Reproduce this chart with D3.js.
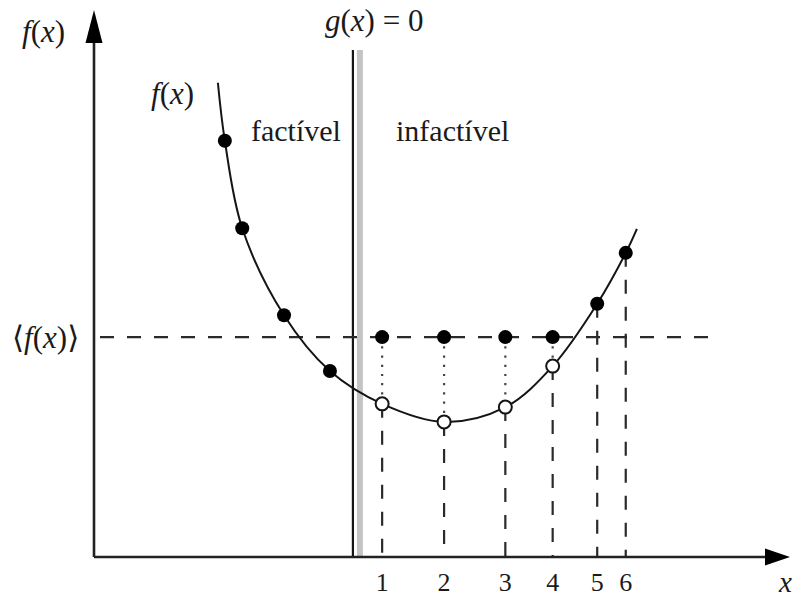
<!DOCTYPE html>
<html>
<head>
<meta charset="utf-8">
<script src="https://cdn.jsdelivr.net/npm/d3@7"></script>
<style>
  html, body { margin: 0; padding: 0; background: #fff; }
  svg { display: block; }
  text { font-family: "Liberation Serif", "DejaVu Serif", serif; fill: #1a1a1a; }
</style>
</head>
<body>
<svg id="chart" width="794" height="597"></svg>
<script>
// Samples of f(x) along the curve (x, f)
const curveX = [17.8, 18.8, 21.3, 27.3, 33.9, 41.4, 50.3, 59.1, 65.9, 72.3, 76.4, 78.0];
const curveY = [86.7, 76.1, 60.1, 44.2, 34.0, 28.0, 24.7, 27.4, 34.9, 46.3, 55.6, 60.0];

// Feasible samples (left of the constraint), filled
const feasX = [18.8, 21.3, 27.3, 33.9];
const feasY = [76.1, 60.1, 44.2, 34.0];

// Infeasible samples 1..4: true value (open) and value replaced by the mean (filled)
const infX = [41.4, 50.3, 59.1, 65.9];
const infY = [28.0, 24.7, 27.4, 34.9];

// Feasible samples 5, 6 on the right
const rightX = [72.3, 76.4];
const rightY = [46.3, 55.6];

// Sample labels along the x axis
const tickLabels = ["1", "2", "3", "4", "5", "6"];
const tickX = [41.4, 50.3, 59.1, 65.9, 72.3, 76.4];

const meanF = 40.2;      // <f(x)>
const meanEnd = 88.5;    // right end of the mean line
const gX = 37.2;         // position of g(x) = 0
const gTop = 92.7;

const svg = d3.select("#chart");
const x = d3.scaleLinear().domain([0, 100]).range([94, 790]);
const y = d3.scaleLinear().domain([0, 100]).range([557, 10]);

const ink = "#151515";
const dashCol = "#2a2a2a";

// constraint boundary: grey band and black line
svg.append("line")
  .attr("x1", x(gX) + 7).attr("x2", x(gX) + 7)
  .attr("y1", y(gTop)).attr("y2", y(0))
  .attr("stroke", "#c4c4c4").attr("stroke-width", 6);
svg.append("line")
  .attr("x1", x(gX)).attr("x2", x(gX))
  .attr("y1", y(gTop)).attr("y2", y(0))
  .attr("stroke", ink).attr("stroke-width", 2.2);

// mean level line
svg.append("line")
  .attr("x1", x(0)).attr("x2", x(meanEnd))
  .attr("y1", y(meanF)).attr("y2", y(meanF))
  .attr("stroke", dashCol).attr("stroke-width", 2.2)
  .attr("stroke-dasharray", "14,13").attr("stroke-dashoffset", -6);

// dotted links from the mean to the true value for samples 1..4
svg.selectAll(".dot-link").data(infX).join("line")
  .attr("x1", d => x(d)).attr("x2", d => x(d))
  .attr("y1", y(meanF)).attr("y2", (d, i) => y(infY[i]))
  .attr("stroke", "#444").attr("stroke-width", 2.2)
  .attr("stroke-dasharray", "2.2,7");

// dashed drops to the x axis
svg.selectAll(".drop").data(infX).join("line")
  .attr("x1", d => x(d)).attr("x2", d => x(d))
  .attr("y1", (d, i) => y(infY[i])).attr("y2", y(0))
  .attr("stroke", dashCol).attr("stroke-width", 2.2)
  .attr("stroke-dasharray", "14,13");
svg.selectAll(".drop2").data(rightX).join("line")
  .attr("x1", d => x(d)).attr("x2", d => x(d))
  .attr("y1", (d, i) => y(rightY[i])).attr("y2", y(0))
  .attr("stroke", dashCol).attr("stroke-width", 2.2)
  .attr("stroke-dasharray", "14,13");

// f(x) curve
const line = d3.line().x(d => x(d[0])).y(d => y(d[1])).curve(d3.curveCatmullRom.alpha(0.5));
svg.append("path")
  .datum(curveX.map((v, i) => [v, curveY[i]]))
  .attr("d", line)
  .attr("fill", "none").attr("stroke", ink).attr("stroke-width", 2);

// axes with arrowheads
svg.append("line")
  .attr("x1", x(0)).attr("x2", x(0)).attr("y1", y(0)).attr("y2", y(94))
  .attr("stroke", "#222").attr("stroke-width", 2.6);
svg.append("line")
  .attr("x1", x(0)).attr("x2", x(97)).attr("y1", y(0)).attr("y2", y(0))
  .attr("stroke", "#222").attr("stroke-width", 2.6);
svg.append("path")
  .attr("d", `M${x(0)},${y(100)} L${x(0) - 8.5},${y(100) + 33} L${x(0) + 8.5},${y(100) + 33} Z`)
  .attr("fill", "#000");
svg.append("path")
  .attr("d", `M${x(100)},${y(0)} L${x(100) - 25},${y(0) - 8.5} L${x(100) - 25},${y(0) + 8.5} Z`)
  .attr("fill", "#000");

// markers
const r = 7;
svg.selectAll(".feas").data(feasX.concat(rightX)).join("circle")
  .attr("cx", d => x(d))
  .attr("cy", (d, i) => y(feasY.concat(rightY)[i]))
  .attr("r", r).attr("fill", "#000");
svg.selectAll(".mean-pt").data(infX).join("circle")
  .attr("cx", d => x(d)).attr("cy", y(meanF))
  .attr("r", r).attr("fill", "#000");
svg.selectAll(".true-pt").data(infX).join("circle")
  .attr("cx", d => x(d)).attr("cy", (d, i) => y(infY[i]))
  .attr("r", 6.5).attr("fill", "#fff").attr("stroke", ink).attr("stroke-width", 2);

// math label helper: pieces as [text, italic]
function mathText(px, py, parts, anchor, size) {
  const t = svg.append("text")
    .attr("x", px).attr("y", py)
    .attr("text-anchor", anchor || "start")
    .attr("font-size", size || 31);
  parts.forEach(p => {
    t.append("tspan").text(p[0]).attr("font-style", p[1] ? "italic" : "normal");
  });
  return t;
}

mathText(22, 42, [["f", 1], ["(", 0], ["x", 1], [")", 0]]);
mathText(151, 104, [["f", 1], ["(", 0], ["x", 1], [")", 0]]);
mathText(325, 31, [["g", 1], ["(", 0], ["x", 1], [")", 0], [" = 0", 0]]);
mathText(12, 348, [["\u27E8", 0], ["f", 1], ["(", 0], ["x", 1], [")", 0], ["\u27E9", 0]]);
mathText(779, 592, [["x", 1]], "start", 29);

svg.append("text").attr("x", 251).attr("y", 141).attr("font-size", 30).text("factível");
svg.append("text").attr("x", 396).attr("y", 141).attr("font-size", 30).text("infactível");

// sample numbers
svg.selectAll(".tick-label").data(tickLabels).join("text")
  .attr("x", (d, i) => x(tickX[i]))
  .attr("y", 591)
  .attr("text-anchor", "middle")
  .attr("font-size", 26)
  .text(d => d);
</script>
</body>
</html>
